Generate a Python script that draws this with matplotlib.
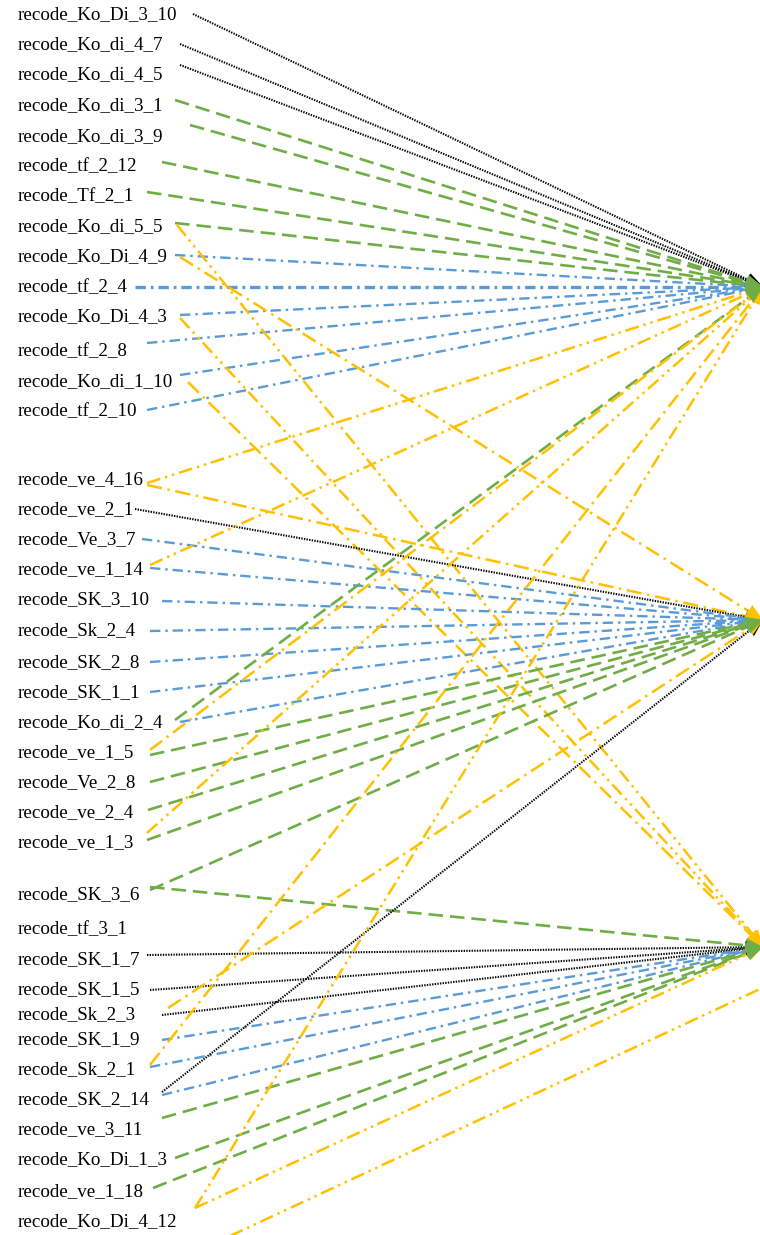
import matplotlib.pyplot as plt
import numpy as np

plt.rcParams['lines.scale_dashes'] = False

# item labels on the left, top to bottom
labels = ['recode_Ko_Di_3_10', 'recode_Ko_di_4_7', 'recode_Ko_di_4_5', 'recode_Ko_di_3_1',
          'recode_Ko_di_3_9', 'recode_tf_2_12', 'recode_Tf_2_1', 'recode_Ko_di_5_5',
          'recode_Ko_Di_4_9', 'recode_tf_2_4', 'recode_Ko_Di_4_3', 'recode_tf_2_8',
          'recode_Ko_di_1_10', 'recode_tf_2_10',
          'recode_ve_4_16', 'recode_ve_2_1', 'recode_Ve_3_7', 'recode_ve_1_14',
          'recode_SK_3_10', 'recode_Sk_2_4', 'recode_SK_2_8', 'recode_SK_1_1',
          'recode_Ko_di_2_4', 'recode_ve_1_5', 'recode_Ve_2_8', 'recode_ve_2_4', 'recode_ve_1_3',
          'recode_SK_3_6', 'recode_tf_3_1', 'recode_SK_1_7', 'recode_SK_1_5', 'recode_Sk_2_3',
          'recode_SK_1_9', 'recode_Sk_2_1', 'recode_SK_2_14', 'recode_ve_3_11',
          'recode_Ko_Di_1_3', 'recode_ve_1_18', 'recode_Ko_Di_4_12']
label_y = [15, 45, 75, 106, 137, 167, 197, 227, 257, 288, 317, 352, 382, 412,
           480, 510, 540, 570, 600, 631, 663, 693, 723, 753, 783, 813, 843,
           895, 930, 960, 990, 1015, 1040, 1070, 1100, 1130, 1160, 1192, 1222]

# paths: source item -> factor (0, 1, 2 visible, 3 below the page), line kind
edge_src = ['recode_Ko_Di_3_10', 'recode_Ko_di_4_7', 'recode_Ko_di_4_5', 'recode_Ko_di_3_1',
            'recode_Ko_di_3_9', 'recode_tf_2_12', 'recode_Tf_2_1', 'recode_Ko_di_5_5',
            'recode_Ko_Di_4_9', 'recode_tf_2_4', 'recode_Ko_Di_4_3', 'recode_tf_2_8',
            'recode_Ko_di_1_10', 'recode_tf_2_10',
            'recode_Ko_di_5_5', 'recode_Ko_Di_4_9', 'recode_Ko_Di_4_3', 'recode_Ko_di_1_10',
            'recode_ve_4_16', 'recode_ve_4_16', 'recode_ve_2_1', 'recode_Ve_3_7',
            'recode_ve_1_14', 'recode_ve_1_14', 'recode_SK_3_10', 'recode_Sk_2_4',
            'recode_SK_2_8', 'recode_SK_1_1', 'recode_Ko_di_2_4', 'recode_Ko_di_2_4',
            'recode_ve_1_5', 'recode_ve_1_5', 'recode_Ve_2_8', 'recode_ve_2_4',
            'recode_ve_1_3', 'recode_ve_1_3',
            'recode_SK_3_6', 'recode_SK_3_6', 'recode_SK_1_7', 'recode_SK_1_5',
            'recode_Sk_2_3', 'recode_Sk_2_3', 'recode_SK_1_9', 'recode_Sk_2_1',
            'recode_Sk_2_1', 'recode_SK_2_14', 'recode_SK_2_14', 'recode_ve_3_11',
            'recode_Ko_Di_1_3', 'recode_ve_1_18', 'recode_Ko_Di_4_12', 'recode_Ko_Di_4_12',
            '']
edge_hub = [0, 0, 0, 0, 0, 0, 0, 0, 0, 0, 0, 0, 0, 0,
            2, 1, 2, 2,
            0, 1, 1, 1, 0, 1, 1, 1, 1, 1, 0, 1, 0, 1, 1, 1, 0, 1,
            1, 2, 2, 2, 2, 1, 2, 0, 2, 1, 2, 2, 2, 2, 0, 2,
            3]
edge_kind = ['dot', 'dot', 'dot', 'dash', 'dash', 'dash', 'dash', 'dash',
             'dashdot', 'dashdot_w', 'dashdot', 'dashdot', 'dashdot', 'dashdot',
             'or2', 'or1', 'or2', 'or1',
             'or2', 'or1', 'dot', 'dashdot', 'or2', 'dashdot', 'dashdot', 'dashdot',
             'dashdot', 'dashdot', 'dash', 'dashdot', 'or1', 'dash', 'dash', 'dash',
             'or2', 'dash',
             'dash', 'dash', 'dot', 'dot', 'dot', 'or1', 'dashdot', 'or1',
             'dashdot', 'dot', 'dashdot', 'dash', 'dash', 'dash', 'or2', 'or2',
             'or2']

# where each path leaves its item
edge_x0 = [193, 180, 180, 175, 190, 162, 147, 175, 175, 135, 180, 147, 180, 147,
           177, 180, 180, 188,
           147, 147, 135, 142, 150, 150, 162, 150, 150, 150, 175, 180, 150, 150, 150, 148,
           147, 147,
           150, 150, 147, 150, 162, 168, 162, 150, 150, 162, 162, 162, 175, 153, 195, 195,
           200]
edge_y0 = [14, 44, 65, 100, 125, 162, 192, 223, 255, 287, 315, 343, 375, 410,
           225, 257, 318, 382,
           483, 485, 509, 539, 565, 568, 601, 631, 662, 692, 720, 722, 750, 755, 782, 810,
           833, 840,
           890, 887, 955, 990, 1015, 1008, 1040, 1065, 1067, 1092, 1095, 1118, 1158, 1188,
           1208, 1208,
           1250]

hub_x = [763, 763, 763, 790]
hub_y = [287, 620, 947, 975]

styles = {
    'dot': dict(color='black', lw=1.5, ls=(0, (1.0, 0.9)), z=3.0),
    'dash': dict(color='#70AD47', lw=1.9, ls=(0, (10.5, 5.0)), z=3.3),
    'dashdot': dict(color='#5B9BD5', lw=1.7, ls=(0, (7.5, 3.5, 1.8, 3.5)), z=3.1),
    'dashdot_w': dict(color='#5B9BD5', lw=2.4, ls=(0, (7.5, 3.5, 2.0, 3.5)), z=3.1),
    'or1': dict(color='#FFC000', lw=1.8, ls=(0, (11.0, 4.0, 1.8, 4.0)), z=3.2),
    'or2': dict(color='#FFC000', lw=1.8, ls=(0, (10.0, 3.5, 1.8, 3.5, 1.8, 3.5)), z=3.2),
}

fig = plt.figure(figsize=(7.6, 12.35), dpi=100)
ax = fig.add_axes([0, 0, 1, 1])
ax.set_xlim(0, 760)
ax.set_ylim(1235, 0)
ax.axis('off')

for name, y in zip(labels, label_y):
    ax.text(18, y, name, fontsize=13.7, family='Liberation Serif', va='center', ha='left',
            color='black')

head_len, head_half = 17, 7
for x0, y0, h, k in zip(edge_x0, edge_y0, edge_hub, edge_kind):
    st = styles[k]
    hx, hy = hub_x[h], hub_y[h]
    ax.plot([x0, hx], [y0, hy], color=st['color'], lw=st['lw'], ls=st['ls'],
            dash_capstyle='butt')
    # arrow head at the factor end
    d = np.array([hx - x0, hy - y0], dtype=float)
    d = d / np.hypot(*d)
    n = np.array([-d[1], d[0]])
    base = np.array([hx, hy]) - head_len * d
    tri = np.array([[hx, hy], base + head_half * n, base - head_half * n])
    ax.fill(tri[:, 0], tri[:, 1], color=st['color'], lw=0, zorder=st['z'])

plt.savefig('out.png', dpi=100)
plt.close()
